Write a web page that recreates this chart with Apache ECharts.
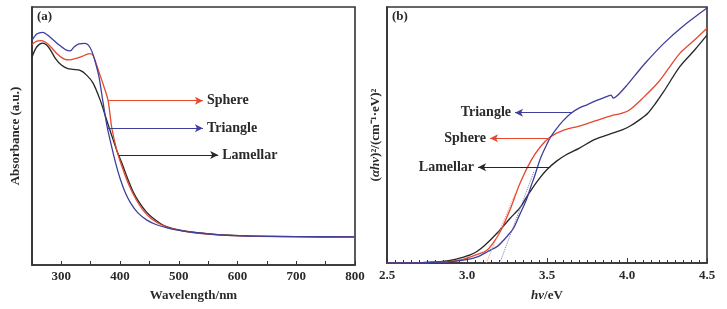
<!DOCTYPE html>
<html>
<head>
<meta charset="utf-8">
<script src="https://cdn.jsdelivr.net/npm/echarts@6/dist/echarts.min.js"></script>
<style>
  html, body { margin: 0; padding: 0; background: #fff; }
  #main { width: 727px; height: 309px; }
</style>
</head>
<body>
<div id="main"></div>
<script>
// (a) absorbance vs wavelength, [nm, a.u.]
var sphereA = [[250,85.5],[258,86.8],[266,87],[278,85.5],[292,82],[305,79.8],[315,79.5],[328,80.3],[340,81.3],[348,81.9],[354,81.2],[360,77.5],[366,73.5],[372,69.5],[379.5,63.8],[386,53],[395,44],[405,37],[415,31],[427,25.5],[440,21],[455,17.6],[472,15.4],[490,14],[520,12.7],[560,11.8],[620,11.2],[700,11],[800,10.9]];
var triangleA = [[250,87],[258,89.5],[268,90.2],[280,88.5],[295,85.5],[307,83.5],[315,83],[322,84.6],[330,85.7],[340,85.9],[346,85.2],[352,82.8],[358,78.5],[364,73],[371,63],[378,53.5],[386,45.5],[393,39],[400,33.5],[408,28.5],[418,24],[430,20.3],[445,17.5],[462,15.6],[480,14.4],[496,13.6],[530,12.5],[575,11.6],[620,11.2],[700,11],[800,10.9]];
var lamellarA = [[250,80.6],[258,84.5],[268,86],[278,84.5],[290,80],[300,77.5],[310,76.2],[320,75.8],[332,75.4],[343,73.6],[354,70.5],[366,64],[376,57],[386,50],[395,44],[403,39.5],[412,34],[422,28.5],[432,24.5],[445,20.5],[458,17.8],[472,15.6],[490,14.1],[520,12.8],[560,11.9],[620,11.3],[700,11],[800,10.9]];

// (b) (αhν)² vs hν, [eV, a.u.]
var sphereB = [[2.5,0],[2.7,0.1],[2.8,0.3],[2.88,0.5],[2.98,1.5],[3.07,3.5],[3.12,4.8],[3.16,7.5],[3.21,12.5],[3.27,21],[3.33,31],[3.4,40],[3.46,45.5],[3.52,49.2],[3.6,51.8],[3.7,53.5],[3.8,55.5],[3.9,57.5],[3.97,58.5],[4.02,60],[4.1,64.5],[4.19,70.2],[4.26,76],[4.33,81.9],[4.42,87],[4.5,91.7]];
var triangleB = [[2.5,0],[2.7,0.1],[2.88,0.4],[2.98,1.1],[3.07,2.5],[3.13,4.5],[3.19,6.5],[3.23,9],[3.29,13.5],[3.33,19],[3.37,24.5],[3.4,30],[3.42,33.5],[3.46,41],[3.5,46.5],[3.52,49],[3.56,52.5],[3.6,55.5],[3.65,58.5],[3.7,60.5],[3.75,61.8],[3.8,63.2],[3.85,64.4],[3.88,65.2],[3.9,65.6],[3.915,64.4],[3.94,65.4],[4.0,69.5],[4.05,73.3],[4.12,78.5],[4.23,85.8],[4.35,92.5],[4.5,99.6]];
var lamellarB = [[2.5,0],[2.7,0.1],[2.8,0.4],[2.86,0.7],[2.91,1.2],[2.96,2],[3.02,3.2],[3.06,4.4],[3.11,6.8],[3.19,11.8],[3.27,17.5],[3.33,21.5],[3.38,26.5],[3.44,32],[3.5,36.5],[3.56,39.8],[3.62,42.3],[3.7,44.8],[3.8,48.3],[3.9,50.5],[3.97,52],[4.02,53.5],[4.08,56],[4.13,58.5],[4.18,62.5],[4.23,67],[4.33,76.7],[4.42,83],[4.5,89]];
var tangentSphereB = [[3.12,0],[3.30,27]];
var tangentTriangleB = [[3.205,0],[3.42,36]];

// arrow annotations: label, start (on curve), end (arrow head)
var arrowNamesA = ['Sphere','Triangle','Lamellar'];
var arrowStartA = [[379.5,63.7],[378,53],[398,42.6]];
var arrowEndA = [[541,63.7],[541,53],[567,42.6]];
var arrowNamesB = ['Sphere','Triangle','Lamellar'];
var arrowStartB = [[3.52,48.7],[3.66,58.7],[3.52,37.4]];
var arrowEndB = [[3.144,48.7],[3.30,58.7],[3.069,37.4]];

var RED = '#e5482e', BLUE = '#3f3f9c', BLACK = '#262626';
var FONT = 'Liberation Serif';
var axisText = { fontFamily: FONT, fontSize: 13, fontWeight: 'bold', color: '#2a2a2a' };

function arrow(name, s, e, color) {
  return {
    silent: true, animation: false,
    symbol: ['none', 'arrow'], symbolSize: [6, 8], precision: 4,
    lineStyle: { color: color, width: 1.2, type: 'solid' },
    label: Object.assign({ show: true, position: 'end', distance: 4, formatter: '{b}' }, axisText, { fontSize: 14 }),
    emphasis: { disabled: true },
    data: [[{ coord: s, name: name }, { coord: e }]]
  };
}

function line(name, data, color, xi, ml) {
  return {
    name: name, type: 'line', data: data, xAxisIndex: xi, yAxisIndex: xi,
    smooth: 0.3, showSymbol: false, symbol: 'none', silent: true,
    lineStyle: { color: color, width: 1.3 }, markLine: ml
  };
}

var chart = echarts.init(document.getElementById('main'));
chart.setOption({
  animation: false,
  grid: [
    { left: 32, top: 7, width: 323, height: 258, show: true, borderColor: '#333', borderWidth: 1.6 },
    { left: 387, top: 7, width: 320, height: 256, show: true, borderColor: '#333', borderWidth: 1.6 }
  ],
  xAxis: [
    { gridIndex: 0, type: 'value', min: 250, max: 800, interval: 50,
      axisLine: { lineStyle: { color: '#333', width: 1.6 } },
      axisTick: { inside: true, length: 4, lineStyle: { color: '#333' } },
      axisLabel: Object.assign({ margin: 5, formatter: function (v) { return v % 100 === 0 ? v : ''; } }, axisText),
      splitLine: { show: false },
      name: 'Wavelength/nm', nameLocation: 'middle', nameGap: 24, nameTextStyle: axisText },
    { gridIndex: 1, type: 'value', min: 2.5, max: 4.5, interval: 0.5,
      axisLine: { lineStyle: { color: '#333', width: 1.6 } },
      axisTick: { inside: true, length: 5, lineStyle: { color: '#333' } },
      minorTick: { show: true, splitNumber: 10, length: 3, lineStyle: { color: '#333' } },
      axisLabel: Object.assign({ margin: 6, formatter: function (v) { return v.toFixed(1); } }, axisText),
      splitLine: { show: false },
      name: '{i|hν}{n|/eV}', nameLocation: 'middle', nameGap: 26,
      nameTextStyle: Object.assign({ rich: { i: Object.assign({}, axisText, { fontStyle: 'italic' }), n: axisText } }, axisText) }
  ],
  yAxis: [
    { gridIndex: 0, type: 'value', min: 0, max: 100,
      axisLine: { lineStyle: { color: '#333', width: 1.6 } },
      axisTick: { show: false }, axisLabel: { show: false }, splitLine: { show: false },
      name: 'Absorbance (a.u.)', nameLocation: 'middle', nameGap: 10, nameTextStyle: axisText },
    { gridIndex: 1, type: 'value', min: 0, max: 100,
      axisLine: { lineStyle: { color: '#333', width: 1.6 } },
      axisTick: { show: false }, axisLabel: { show: false }, splitLine: { show: false },
      name: '{n|(}{i|αhν}{n|)²/(cm⁻¹·eV)²}', nameLocation: 'middle', nameGap: 5,
      nameTextStyle: Object.assign({ rich: { i: Object.assign({}, axisText, { fontStyle: 'italic' }), n: axisText } }, axisText) }
  ],
  graphic: [
    { type: 'text', left: 37, top: 10, style: { text: '(a)', font: 'bold 13px "Liberation Serif"', fill: '#2a2a2a' } },
    { type: 'text', left: 392, top: 10, style: { text: '(b)', font: 'bold 13px "Liberation Serif"', fill: '#2a2a2a' } }
  ],
  series: [
    line('Lamellar', lamellarA, BLACK, 0, arrow(arrowNamesA[2], arrowStartA[2], arrowEndA[2], BLACK)),
    line('Sphere', sphereA, RED, 0, arrow(arrowNamesA[0], arrowStartA[0], arrowEndA[0], RED)),
    line('Triangle', triangleA, BLUE, 0, arrow(arrowNamesA[1], arrowStartA[1], arrowEndA[1], BLUE)),
    line('Lamellar', lamellarB, BLACK, 1, arrow(arrowNamesB[2], arrowStartB[2], arrowEndB[2], BLACK)),
    line('Sphere', sphereB, RED, 1, arrow(arrowNamesB[0], arrowStartB[0], arrowEndB[0], RED)),
    line('Triangle', triangleB, BLUE, 1, arrow(arrowNamesB[1], arrowStartB[1], arrowEndB[1], BLUE)),
    { type: 'line', data: tangentSphereB, xAxisIndex: 1, yAxisIndex: 1, showSymbol: false, symbol: 'none', silent: true,
      lineStyle: { color: '#f08a78', width: 1, type: 'dotted' } },
    { type: 'line', data: tangentTriangleB, xAxisIndex: 1, yAxisIndex: 1, showSymbol: false, symbol: 'none', silent: true,
      lineStyle: { color: '#7878c0', width: 1, type: 'dotted' } }
  ]
});
</script>
</body>
</html>
